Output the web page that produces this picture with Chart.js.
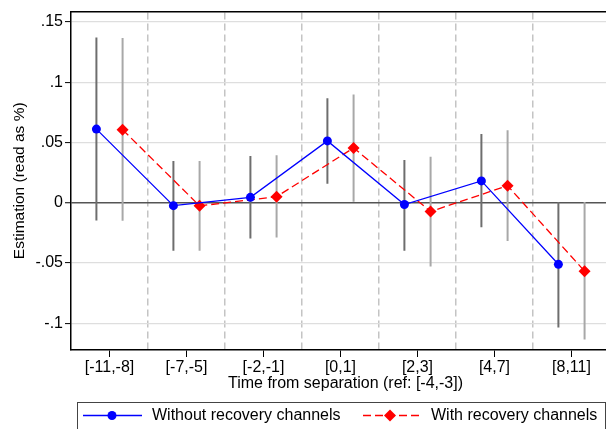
<!DOCTYPE html>
<html>
<head>
<meta charset="utf-8">
<script src="https://cdn.jsdelivr.net/npm/chart.js@4.4.0/dist/chart.umd.min.js"></script>
<style>
  html, body { margin: 0; padding: 0; background: #fff; overflow: hidden; }
  body { width: 606px; height: 429px; }
  #wrap { width: 626px; height: 429px; }
</style>
</head>
<body>
<div id="wrap"><canvas id="chart"></canvas></div>
<script>
// --- Data ---
const categories = ["[-11,-8]", "[-7,-5]", "[-2,-1]", "[0,1]", "[2,3]", "[4,7]", "[8,11]"];
const seriesNames = ["Without recovery channels", "With recovery channels"];

const withoutEst = [0.061, -0.0025, 0.0044, 0.0512, -0.0016, 0.018, -0.0512];
const withoutHi = [0.137, 0.0345, 0.0386, 0.0865, 0.0353, 0.0569, 0.0005];
const withoutLo = [-0.0148, -0.040, -0.0298, 0.0156, -0.040, -0.0205, -0.1037];

const withEst = [0.0605, -0.0027, 0.0049, 0.0454, -0.0074, 0.014, -0.0569];
const withHi = [0.1365, 0.0345, 0.0394, 0.0897, 0.038, 0.060, 0.0005];
const withLo = [-0.015, -0.040, -0.029, 0.0008, -0.053, -0.0318, -0.1136];

const yTicks = [-0.1, -0.05, 0, 0.05, 0.1, 0.15];
const yTickLabels = ["-.1", "-.05", "0", ".05", ".1", ".15"];
const separators = [0.5, 1.5, 2.5, 3.5, 4.5, 5.5];

const shift = 0.17;
const FONT = "'Liberation Sans', Arial, sans-serif";

Chart.defaults.font.family = FONT;
Chart.defaults.color = "#000";

function points(est, dx) {
  return est.map((v, i) => ({ x: i + dx, y: v }));
}

function ciSegments(lo, hi, dx) {
  const out = [];
  lo.forEach((l, i) => {
    out.push({ x: i + dx, y: hi[i] });
    out.push({ x: i + dx, y: l });
    out.push({ x: i + dx, y: null });
  });
  return out;
}

// --- Legend drawn under the plot ---
const legendBox = {
  id: "legendBox",
  afterDraw(chart) {
    const ctx = chart.ctx;
    const left = chart.chartArea.left + 6;
    const right = 605;
    const top = 402;
    const cy = top + 13.5;
    ctx.save();
    ctx.strokeStyle = "#444";
    ctx.lineWidth = 1;
    ctx.strokeRect(left + 0.5, top + 0.5, right - left, 40);

    ctx.font = "16px " + FONT;
    ctx.fillStyle = "#000";
    ctx.textBaseline = "middle";

    // blue entry
    ctx.strokeStyle = "#0000ff";
    ctx.lineWidth = 1.3;
    ctx.beginPath();
    ctx.moveTo(left + 6, cy);
    ctx.lineTo(left + 65, cy);
    ctx.stroke();
    ctx.fillStyle = "#0000ff";
    ctx.beginPath();
    ctx.arc(left + 35, cy, 4.5, 0, Math.PI * 2);
    ctx.fill();
    ctx.fillStyle = "#000";
    ctx.fillText(seriesNames[0], left + 75, cy);

    // red entry
    const rx = left + 286;
    ctx.strokeStyle = "#ff0000";
    ctx.setLineDash([8, 4]);
    ctx.beginPath();
    ctx.moveTo(rx, cy);
    ctx.lineTo(rx + 59, cy);
    ctx.stroke();
    ctx.setLineDash([]);
    ctx.fillStyle = "#ff0000";
    ctx.beginPath();
    ctx.moveTo(rx + 27, cy - 6);
    ctx.lineTo(rx + 33, cy);
    ctx.lineTo(rx + 27, cy + 6);
    ctx.lineTo(rx + 21, cy);
    ctx.closePath();
    ctx.fill();
    ctx.fillStyle = "#000";
    ctx.fillText(seriesNames[1], rx + 68, cy);
    ctx.restore();
  },
};

const xMin = -0.5;
const xMax = 6.63;

new Chart(document.getElementById("chart"), {
  type: "line",
  data: {
    datasets: [
      {
        label: seriesNames[0] + " CI",
        data: ciSegments(withoutLo, withoutHi, -shift),
        borderColor: "#6e6e6e",
        borderWidth: 2,
        pointRadius: 0,
        spanGaps: false,
        order: 3,
      },
      {
        label: seriesNames[1] + " CI",
        data: ciSegments(withLo, withHi, shift),
        borderColor: "#a8a8a8",
        borderWidth: 2,
        pointRadius: 0,
        spanGaps: false,
        order: 3,
      },
      {
        label: seriesNames[1],
        data: points(withEst, shift),
        borderColor: "#ff0000",
        backgroundColor: "#ff0000",
        borderWidth: 1.3,
        borderDash: [8, 4],
        pointStyle: "rectRot",
        pointRadius: 6,
        pointBorderWidth: 0,
        order: 2,
      },
      {
        label: seriesNames[0],
        data: points(withoutEst, -shift),
        borderColor: "#0000ff",
        backgroundColor: "#0000ff",
        borderWidth: 1.3,
        pointStyle: "circle",
        pointRadius: 4.5,
        pointBorderWidth: 0,
        order: 1,
      },
    ],
  },
  options: {
    responsive: true,
    maintainAspectRatio: false,
    animation: false,
    layout: { padding: { top: 8, bottom: 29, left: 0, right: 0 } },
    plugins: { legend: { display: false }, tooltip: { enabled: false } },
    scales: {
      x: {
        type: "linear",
        position: "bottom",
        min: xMin,
        max: xMax,
        afterBuildTicks: (s) => { s.ticks = categories.map((c, i) => ({ value: i })); },
        afterFit: (s) => { s.height = 50; },
        ticks: {
          callback: (v) => categories[v],
          font: { size: 16 },
          color: "#000",
          padding: 1,
          maxRotation: 0,
          autoSkip: false,
        },
        grid: { drawOnChartArea: false, tickLength: 7, tickColor: "#000", tickWidth: 1 },
        border: { color: "#000", width: 1.5 },
        title: {
          display: true,
          text: "Time from separation (ref: [-4,-3])",
          font: { size: 16 },
          color: "#000",
          padding: { top: 0, bottom: 7 },
        },
      },
      xTop: {
        type: "linear",
        position: "top",
        min: xMin,
        max: xMax,
        afterBuildTicks: (s) => { s.ticks = separators.map((v) => ({ value: v })); },
        afterFit: (s) => { s.height = 0; },
        ticks: { display: false },
        grid: { color: "#c4c4c4", lineWidth: 1.5, drawTicks: false },
        border: { color: "#000", width: 1.5, dash: [7, 4] },
      },
      y: {
        min: -0.1223,
        max: 0.1585,
        afterBuildTicks: (s) => { s.ticks = yTicks.map((v) => ({ value: v })); },
        afterFit: (s) => { s.width = 71; },
        ticks: {
          callback: (v, i) => yTickLabels[i],
          font: { size: 16 },
          color: "#000",
          padding: 2,
        },
        grid: {
          color: (c) => (c.tick && c.tick.value === 0 ? "#555" : "#dedede"),
          lineWidth: (c) => (c.tick && c.tick.value === 0 ? 1.5 : 1.2),
          tickColor: "#000",
          tickLength: 6,
          tickWidth: 1,
        },
        border: { color: "#000", width: 1.5 },
        title: {
          display: true,
          text: "Estimation (read as %)",
          font: { size: 15.5 },
          color: "#000",
          padding: { top: 10, bottom: 0 },
        },
      },
    },
  },
  plugins: [legendBox],
});
</script>
</body>
</html>
